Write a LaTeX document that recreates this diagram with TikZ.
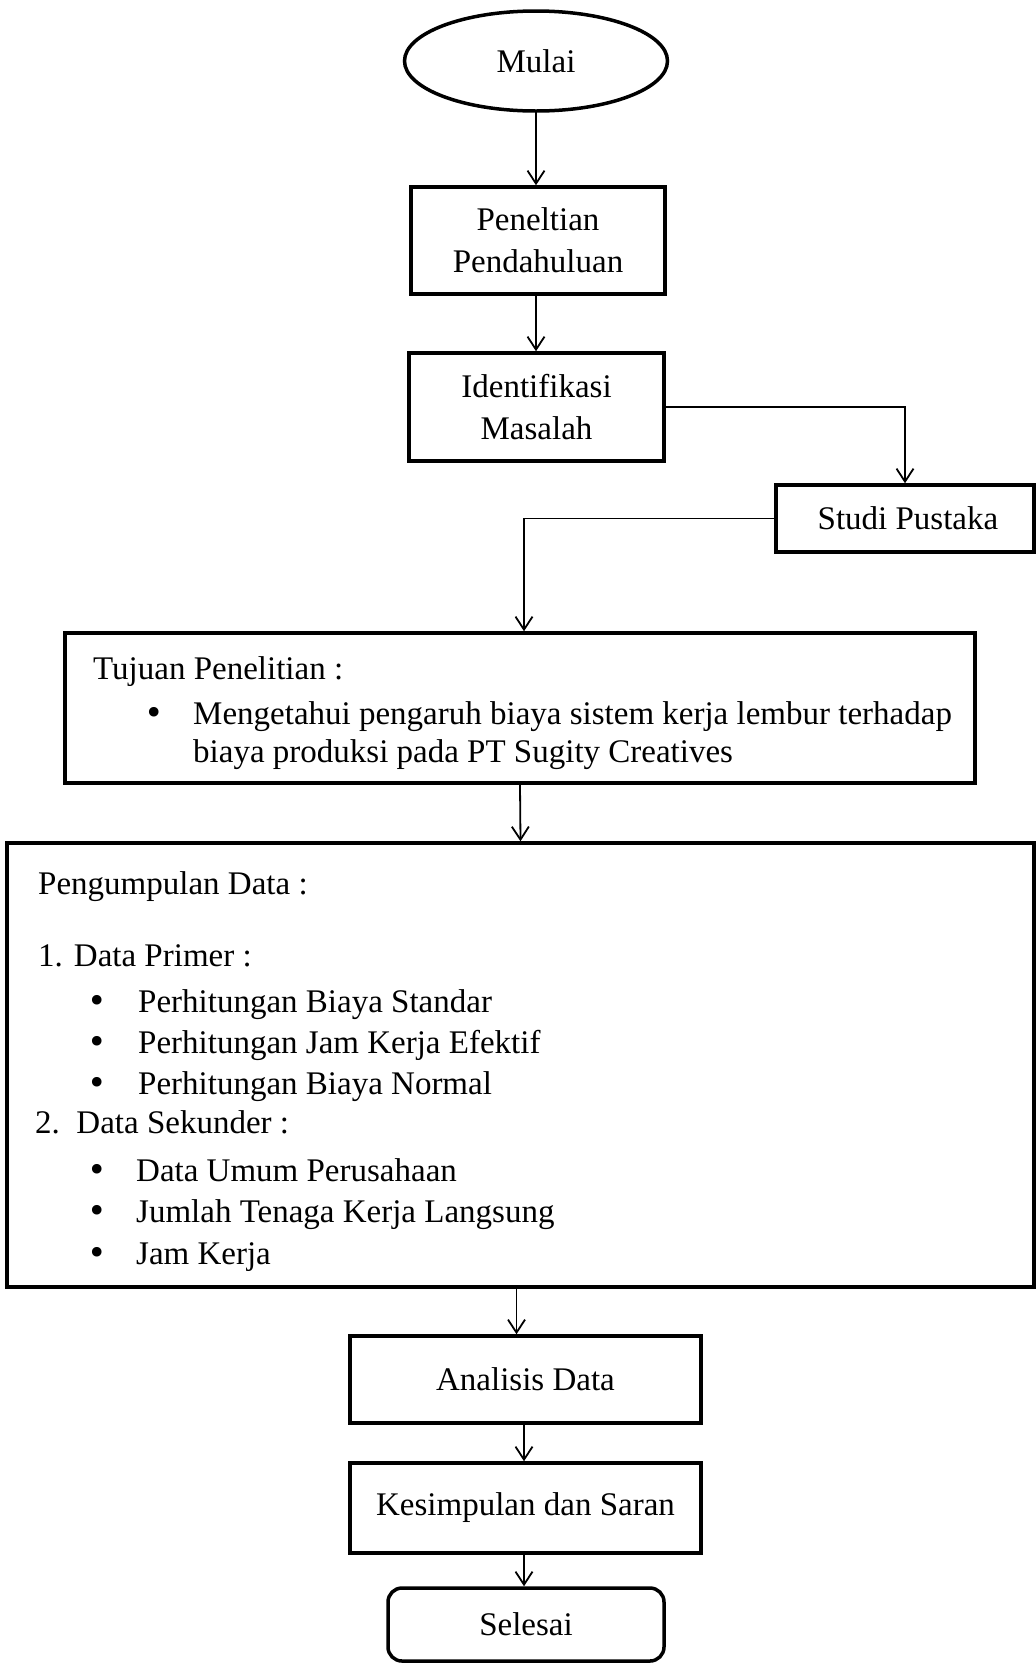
\documentclass[tikz,border=0pt]{standalone}
\usepackage{fontspec}
\setmainfont{Liberation Serif}
\newfontfamily\bulfont{DejaVu Sans}
\usetikzlibrary{arrows.meta,shapes.geometric}
\newcommand{\bigbul}[1]{\makebox[#1][l]{\bulfont •}}
\begin{document}
\begin{tikzpicture}[x=1pt,y=-1pt,
  font=\fontsize{33}{42}\selectfont,
  box/.style={draw,line width=3.5pt,inner sep=0pt,align=center},
  conn/.style={line width=1.8pt,-{Straight Barb[length=13pt,width=17pt,line width=1.8pt]}},
  txt/.style={anchor=base west,inner sep=0pt}]
\useasboundingbox (0,0) rectangle (1036,1663);

% boxes
\node[box,ellipse,minimum width=263pt,minimum height=100pt] (mulai) at (536,61) {Mulai};
\node[box,minimum width=254pt,minimum height=107pt] (pen) at (538,240.5) {Peneltian\\Pendahuluan};
\node[box,minimum width=255pt,minimum height=108pt] (idf) at (536.5,407) {Identifikasi\\Masalah};
\node[box,minimum width=258pt,minimum height=67pt] (studi) at (905,518.5) {\hspace*{6pt}Studi Pustaka};
\node[box,minimum width=910pt,minimum height=150pt] (tuj) at (520,708) {};
\node[box,minimum width=1027pt,minimum height=444pt] (peng) at (520.5,1065) {};
\node[box,minimum width=351pt,minimum height=87pt] (ana) at (525.5,1379.5) {Analisis Data};
\node[box,minimum width=351pt,minimum height=90pt] (kes) at (525.5,1508) {Kesimpulan dan Saran};
\node[box,rounded corners=14pt,minimum width=276pt,minimum height=73pt] (sel) at (526,1624.5) {Selesai};

% Tujuan text
\node[txt] (t1) at (93,679) {Tujuan Penelitian :};
\node[txt] (t2) at (144,724) {\bigbul{49pt}Mengetahui pengaruh biaya sistem kerja lembur terhadap};
\node[txt] (t3) at (193,762) {biaya produksi pada PT Sugity Creatives};

% Pengumpulan text
\node[txt] (p0) at (38,894) {Pengumpulan Data :};
\node[txt] (p1) at (38,966) {1. Data Primer :};
\node[txt] (p11) at (87,1012) {\bigbul{51pt}Perhitungan Biaya Standar};
\node[txt] (p12) at (87,1053) {\bigbul{51pt}Perhitungan Jam Kerja Efektif};
\node[txt] (p13) at (87,1094) {\bigbul{51pt}Perhitungan Biaya Normal};
\node[txt] (p2) at (35,1133) {2.\ \ Data Sekunder :};
\node[txt] (p21) at (87,1181) {\bigbul{49pt}Data Umum Perusahaan};
\node[txt] (p22) at (87,1222) {\bigbul{49pt}Jumlah Tenaga Kerja Langsung};
\node[txt] (p23) at (87,1264) {\bigbul{49pt}Jam Kerja};

% connectors
\draw[conn] (mulai.south) -- (mulai.south |- pen.north);
\draw[conn] (pen.south -| mulai.south) -- (mulai.south |- idf.north);
\draw[conn] (idf.east) -| (studi.north);
\draw[conn] (studi.west) -| ([xshift=4pt]tuj.north);
\draw[conn] (tuj.south) -- (peng.north);
\draw[conn] ([xshift=-4pt]peng.south) -- ([xshift=-4pt]peng.south |- ana.north);
\draw[conn] ([xshift=-1.5pt]ana.south) -- ([xshift=-1.5pt]kes.north);
\draw[conn] ([xshift=-1.5pt]kes.south) -- ([xshift=-1.5pt]kes.south |- sel.north);
\end{tikzpicture}
\end{document}
